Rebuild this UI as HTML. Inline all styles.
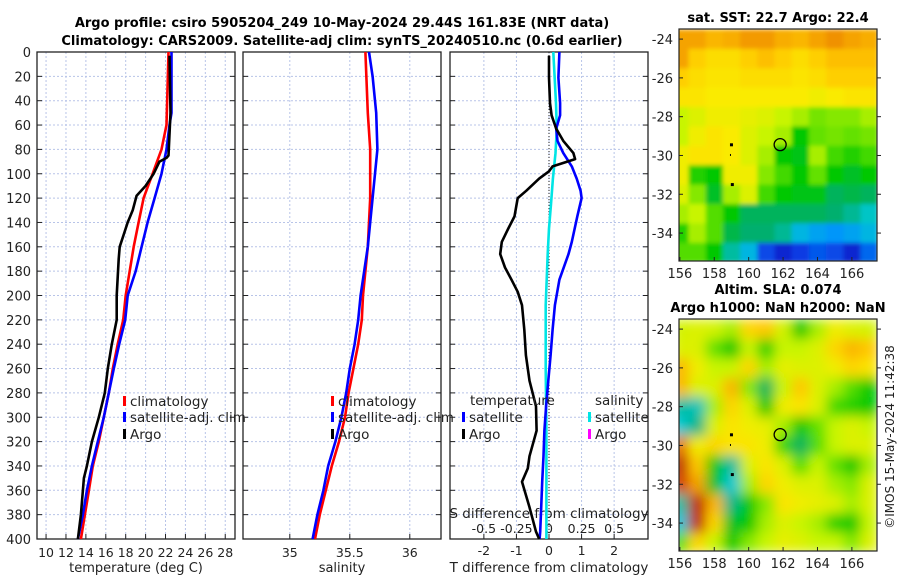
<!DOCTYPE html>
<html><head><meta charset="utf-8">
<style>
html,body{margin:0;padding:0;background:#fff;}
svg{display:block;font-family:"DejaVu Sans","Liberation Sans",sans-serif;}
</style></head>
<body>
<svg id="fig" width="900" height="580" viewBox="0 0 900 580" xmlns="http://www.w3.org/2000/svg">
<defs>
<filter id="blurSST" x="0" y="0" width="1" height="1"><feGaussianBlur stdDeviation="2" edgeMode="duplicate"/></filter>
<filter id="blurSLA" x="0" y="0" width="1" height="1"><feGaussianBlur stdDeviation="6" edgeMode="duplicate"/></filter>
<clipPath id="clipSST"><rect x="679" y="29" width="198" height="232"/></clipPath>
<clipPath id="clipSLA"><rect x="679" y="319" width="198" height="232"/></clipPath>
</defs>
<text x="342" y="27" text-anchor="middle" font-size="13" font-weight="bold">Argo profile: csiro 5905204_249 10-May-2024 29.44S 161.83E (NRT data)</text>
<text x="342" y="45" text-anchor="middle" font-size="13" font-weight="bold">Climatology: CARS2009. Satellite-adj clim: synTS_20240510.nc (0.6d earlier)</text>
<text x="778" y="22" text-anchor="middle" font-size="13" font-weight="bold">sat. SST: 22.7 Argo: 22.4</text>
<text x="778" y="294" text-anchor="middle" font-size="13" font-weight="bold">Altim. SLA: 0.074</text>
<text x="778" y="312" text-anchor="middle" font-size="13" font-weight="bold">Argo h1000: NaN h2000: NaN</text>
<text x="0" y="0" transform="translate(894,437) rotate(-90)" text-anchor="middle" font-size="12" fill="#222">©IMOS 15-May-2024 11:42:38</text>
<g id="root"></g>
</svg>
<script>
// ---- profile data ----
const depthsClim = [0,60,80,100,120,140,160,180,200,220,240,260,280,300,320,340,360,380,400];
const tempClim = [22.3,22.1,21.6,20.7,19.8,19.3,18.8,18.4,18.0,17.75,17.2,16.7,16.3,15.8,15.3,14.7,14.3,13.9,13.5];
const depthsSat = [0,50,60,80,100,120,140,160,180,200,220,240,260,280,300,320,340,360,380,400];
const tempSat = [22.6,22.6,22.4,22.1,21.6,20.9,20.2,19.6,19.0,18.2,17.95,17.35,16.8,16.3,15.8,15.2,14.6,14.1,13.7,13.2];
const depthsArgo = [3,50,85,87,90,100,110,118,130,140,150,160,170,200,220,240,260,280,300,320,340,350,360,380,400];
const tempArgo = [22.4,22.5,22.3,22.1,21.4,20.8,20.0,19.1,18.7,18.2,17.8,17.4,17.3,17.1,17.1,16.6,16.2,15.9,15.3,14.6,14.1,13.8,13.7,13.5,13.2];
const depthsSalClim = [0,50,80,120,160,180,200,220,240,260,280,300,320,340,360,380,400];
const salClim = [35.63,35.65,35.67,35.67,35.65,35.63,35.61,35.6,35.57,35.53,35.49,35.46,35.41,35.35,35.3,35.25,35.21];
const depthsSalSat = [0,20,50,80,100,120,140,160,180,200,220,240,260,280,300,320,340,360,380,400];
const salSat = [35.66,35.69,35.72,35.73,35.71,35.69,35.67,35.65,35.62,35.59,35.57,35.54,35.5,35.47,35.43,35.38,35.32,35.28,35.23,35.19];
const depthsDiffSatT = [0,21,42,52,63,73,83,94,104,114,120,135,156,166,187,208,228,249,270,291,311,332,353,374,394,400];
const diffSatT = [0.32,0.29,0.34,0.34,0.22,0.26,0.44,0.7,0.85,0.97,1.0,0.87,0.7,0.6,0.32,0.18,0.11,0.05,-0.02,-0.09,-0.14,-0.17,-0.21,-0.24,-0.27,-0.29];
const depthsDiffArgoT = [3,21,42,52,63,73,83,88,94,98,104,114,120,135,145,156,166,177,187,197,208,228,249,270,291,311,332,342,353,374,394,400];
const diffArgoT = [0,0,0.03,0.08,0.22,0.44,0.75,0.8,0.11,0,-0.3,-0.7,-0.96,-1.06,-1.25,-1.45,-1.5,-1.35,-1.15,-0.96,-0.83,-0.76,-0.71,-0.6,-0.4,-0.38,-0.6,-0.65,-0.83,-0.6,-0.4,-0.3];
const depthsDiffSatS = [0,42,63,83,104,125,145,166,208,260,311,364,400];
const diffSatS = [0.033,0.054,0.06,0.05,0.03,0.015,0,-0.01,-0.025,-0.025,-0.02,-0.02,-0.02];
const depthTicks = [0,20,40,60,80,100,120,140,160,180,200,220,240,260,280,300,320,340,360,380,400];
const tempTicks = [10,12,14,16,18,20,22,24,26,28];
const salTicks = [35,35.5,36];
const salTickLabels = ["35","35.5","36"];
const tdiffTicks = [-2,-1,0,1,2];
const sdiffTicks = [-0.5,-0.25,0,0.25,0.5];
const sdiffTickLabels = ["-0.5","-0.25","0","0.25","0.5"];
// ---- map data (colour index 0..1) ----
const mapLons = [156,157,158,159,160,161,162,163,164,165,166,167];
const mapLats = [-24,-25,-26,-27,-28,-29,-30,-31,-32,-33,-34,-35];
const sstGrid = [
[0.76,0.76,0.74,0.75,0.77,0.77,0.75,0.74,0.76,0.78,0.76,0.75],
[0.76,0.71,0.69,0.69,0.71,0.73,0.71,0.69,0.71,0.73,0.73,0.73],
[0.71,0.69,0.68,0.68,0.69,0.69,0.69,0.68,0.69,0.71,0.71,0.71],
[0.68,0.68,0.67,0.67,0.67,0.67,0.67,0.67,0.66,0.67,0.68,0.68],
[0.62,0.64,0.66,0.66,0.65,0.64,0.62,0.6,0.57,0.58,0.58,0.6],
[0.62,0.66,0.68,0.67,0.64,0.62,0.6,0.5,0.56,0.57,0.56,0.57],
[0.66,0.68,0.68,0.67,0.64,0.6,0.5,0.49,0.6,0.54,0.52,0.54],
[0.66,0.52,0.5,0.66,0.66,0.58,0.54,0.5,0.56,0.5,0.48,0.5],
[0.64,0.58,0.48,0.6,0.64,0.54,0.5,0.49,0.49,0.45,0.46,0.45],
[0.6,0.62,0.55,0.5,0.45,0.45,0.45,0.45,0.45,0.44,0.41,0.37],
[0.52,0.6,0.55,0.46,0.44,0.44,0.41,0.33,0.3,0.28,0.3,0.33],
[0.55,0.55,0.5,0.4,0.33,0.18,0.12,0.16,0.2,0.18,0.12,0.22]];
const slaGrid = [
[0.63,0.64,0.63,0.6,0.7,0.72,0.63,0.5,0.6,0.66,0.64,0.63],
[0.64,0.64,0.56,0.5,0.62,0.52,0.62,0.62,0.64,0.7,0.74,0.72],
[0.74,0.66,0.62,0.62,0.7,0.6,0.65,0.64,0.64,0.66,0.7,0.68],
[0.74,0.64,0.64,0.74,0.58,0.45,0.62,0.72,0.64,0.6,0.55,0.5],
[0.4,0.38,0.6,0.7,0.64,0.5,0.66,0.68,0.64,0.54,0.52,0.5],
[0.36,0.42,0.64,0.68,0.66,0.65,0.6,0.5,0.56,0.62,0.64,0.62],
[0.8,0.66,0.7,0.68,0.68,0.66,0.53,0.45,0.55,0.62,0.64,0.64],
[0.88,0.72,0.5,0.4,0.64,0.68,0.64,0.55,0.62,0.56,0.5,0.6],
[0.84,0.76,0.48,0.36,0.6,0.7,0.66,0.64,0.64,0.6,0.58,0.64],
[0.4,0.88,0.74,0.42,0.5,0.58,0.68,0.66,0.65,0.64,0.6,0.64],
[0.35,0.88,0.7,0.48,0.5,0.6,0.64,0.62,0.6,0.52,0.5,0.62],
[0.55,0.7,0.62,0.5,0.58,0.62,0.65,0.64,0.62,0.62,0.58,0.64]];
const mapLonTicks = [156,158,160,162,164,166];
const mapLatTicks = [-24,-26,-28,-30,-32,-34];
const argoLon = 161.83, argoLat = -29.44;
const dotLons = [159,159,159.05];
const dotLats = [-29.45,-30,-31.5];

const NS="http://www.w3.org/2000/svg";
const root=document.getElementById('root');
function mk(tag,attrs,parent){const e=document.createElementNS(NS,tag);for(const k in attrs)e.setAttribute(k,attrs[k]);(parent||root).appendChild(e);return e;}

const Y0=52,Y1=539;
const yD=d=>Y0+(Y1-Y0)*d/400;
function linX(a,b,x0,x1){return v=>x0+(v-a)*(x1-x0)/(b-a);}

function panel(name,x0,x1,vgridVals,xs){
  const g=mk('g',{});
  
  
  vgridVals.forEach(v=>{const l=mk('line',{x1:xs(v),x2:xs(v),y1:Y0,y2:Y1,stroke:'#b8c4e8','stroke-width':1,'stroke-dasharray':'2,2'},g);
    });
  depthTicks.forEach(d=>{const l=mk('line',{x1:x0,x2:x1,y1:yD(d),y2:yD(d),stroke:'#b8c4e8','stroke-width':1,'stroke-dasharray':'2,2'},g);
    
    mk('line',{x1:x0,x2:x0+5,y1:yD(d),y2:yD(d),stroke:'#222'},g);
    mk('line',{x1:x1-5,x2:x1,y1:yD(d),y2:yD(d),stroke:'#222'},g);});
  const r=mk('rect',{x:x0,y:Y0,width:x1-x0,height:Y1-Y0,fill:'none',stroke:'#222','stroke-width':1.3},g);
  
  return g;
}
function line(g,xs,depths,vals,color,name,w){
  const p=depths.map((d,i)=>(i?'L':'M')+xs(vals[i]).toFixed(1)+','+yD(d).toFixed(1)).join('');
  const e=mk('path',{d:p,fill:'none',stroke:color,'stroke-width':w||2.6,'stroke-linejoin':'round'},g);
  
  
}
function txt(g,x,y,s,opts,name){const t=mk('text',Object.assign({x:x,y:y,'font-size':12.5,fill:'#222'},opts||{}),g);t.textContent=s;
  return t;}
function legend(g,x,y,color,label,name){mk('rect',{x:x,y:y-5,width:3,height:10,fill:color},g);txt(g,x+7,y+5,label,{'font-size':13.5},name);}

// Panel 1 temperature
const xT=linX(9.09,28.98,37,235);
let g1=panel('temperature',37,235,tempTicks,xT);
depthTicks.forEach(d=>txt(g1,31,yD(d)+5,String(d),{'text-anchor':'end','font-size':13},'depth-tick-label'));
tempTicks.forEach(v=>{mk('line',{x1:xT(v),x2:xT(v),y1:Y1,y2:Y1-5,stroke:'#222'},g1);txt(g1,xT(v),557,String(v),{'text-anchor':'middle','font-size':12.5},'temp-tick-label');});
txt(g1,136,572,'temperature (deg C)',{'text-anchor':'middle','font-size':13},'x-axis-title-temperature');
line(g1,xT,depthsClim,tempClim,'#ff0000','temp-climatology-line');
line(g1,xT,depthsSat,tempSat,'#0000ff','temp-satellite-line');
line(g1,xT,depthsArgo,tempArgo,'#000000','temp-argo-line');
legend(g1,123,401,'#ff0000','climatology','legend-climatology');
legend(g1,123,417,'#0000ff','satellite-adj. clim','legend-satellite');
legend(g1,123,434,'#000000','Argo','legend-argo');

// Panel 2 salinity
const xS=linX(34.61,36.26,243,441);
let g2=panel('salinity',243,441,salTicks,xS);
salTicks.forEach((v,i)=>{mk('line',{x1:xS(v),x2:xS(v),y1:Y1,y2:Y1-5,stroke:'#222'},g2);txt(g2,xS(v),557,salTickLabels[i],{'text-anchor':'middle','font-size':12.5},'sal-tick-label');});
txt(g2,342,572,'salinity',{'text-anchor':'middle','font-size':13},'x-axis-title-salinity');
line(g2,xS,depthsSalClim,salClim,'#ff0000','sal-climatology-line');
line(g2,xS,depthsSalSat,salSat,'#0000ff','sal-satellite-line');
legend(g2,331,401,'#ff0000','climatology','legend-climatology');
legend(g2,331,417,'#0000ff','satellite-adj. clim','legend-satellite');
legend(g2,331,434,'#000000','Argo','legend-argo');

// Panel 3 differences
const xTD=linX(-3.04,3.04,450,648);
const xSD=linX(-0.76,0.76,450,648);
let g3=panel('difference',450,648,tdiffTicks,xTD);
mk('line',{x1:xTD(0),x2:xTD(0),y1:Y0,y2:Y1,stroke:'#222','stroke-width':1,'stroke-dasharray':'1,2'},g3);
tdiffTicks.forEach(v=>{mk('line',{x1:xTD(v),x2:xTD(v),y1:Y1,y2:Y1-5,stroke:'#222'},g3);txt(g3,xTD(v),555,String(v),{'text-anchor':'middle','font-size':12.5},'tdiff-tick-label');});
sdiffTicks.forEach((v,i)=>txt(g3,xSD(v),533,sdiffTickLabels[i],{'text-anchor':'middle','font-size':12.5},'sdiff-tick-label'));
txt(g3,549,518,'S difference from climatology',{'text-anchor':'middle','font-size':13.5},'s-diff-axis-title');
txt(g3,549,572,'T difference from climatology',{'text-anchor':'middle','font-size':13.5},'t-diff-axis-title');
line(g3,xSD,depthsDiffSatS,diffSatS,'#00e5e5','sdiff-satellite-line');
line(g3,xTD,depthsDiffSatT,diffSatT,'#0000ff','tdiff-satellite-line');
line(g3,xTD,depthsDiffArgoT,diffArgoT,'#000000','tdiff-argo-line');
txt(g3,470,405,'temperature',{'font-size':13.5},'legend-temperature-heading');
legend(g3,462,417,'#0000ff','satellite','legend-t-satellite');
legend(g3,462,434,'#000000','Argo','legend-t-argo');
txt(g3,595,405,'salinity',{'font-size':13.5},'legend-salinity-heading');
legend(g3,588,417,'#00e5e5','satellite','legend-s-satellite');
legend(g3,588,434,'#ff00ff','Argo','legend-s-argo');

// Maps - custom colormap approximating the reference
const cmStops=[[0,[0,0,140]],[0.15,[10,50,225]],[0.28,[0,150,250]],[0.36,[0,200,210]],[0.44,[0,175,110]],[0.5,[0,200,0]],[0.56,[100,225,0]],[0.62,[200,245,0]],[0.67,[250,235,0]],[0.72,[255,200,0]],[0.78,[240,145,0]],[0.86,[200,30,0]],[1,[130,0,0]]];
function cmap(v){v=Math.max(0,Math.min(1,v));
  for(let i=1;i<cmStops.length;i++){if(v<=cmStops[i][0]){const a=cmStops[i-1],b=cmStops[i],t=(v-a[0])/(b[0]-a[0]);
    return 'rgb('+a[1].map((c,k)=>Math.round(c+(b[1][k]-c)*t)).join(',')+')';}}
  return 'rgb(130,0,0)';}
function map(name,top,grid,filter,clip){
  const X0=679,X1=877,H=232;
  const lonX=linX(155.95,167.46,X0,X1);
  const latY=linX(-23.48,-35.44,top,top+H);
  const g=mk('g',{});
  
  
  const cells=mk('g',{filter:'url(#'+filter+')','clip-path':'url(#'+clip+')'},g);
  grid.forEach((row,i)=>row.forEach((v,j)=>{
    const c=mk('rect',{x:(lonX(mapLons[j]-0.5)).toFixed(1),y:(latY(mapLats[i]+0.5)).toFixed(1),width:(lonX(1)-lonX(0)+0.6).toFixed(1),height:(latY(-1)-latY(0)+0.6).toFixed(1),fill:cmap(v)},cells);
    
    
  }));
  const b=mk('rect',{x:X0,y:top,width:X1-X0,height:H,fill:'none',stroke:'#222','stroke-width':1.2},g);
  
  mapLonTicks.forEach(v=>{mk('line',{x1:lonX(v),x2:lonX(v),y1:top+H,y2:top+H-4,stroke:'#222'},g);txt(g,lonX(v),top+H+17,String(v),{'text-anchor':'middle','font-size':13},'lon-tick-label');});
  mapLatTicks.forEach(v=>{mk('line',{x1:X0,x2:X0+4,y1:latY(v),y2:latY(v),stroke:'#222'},g);mk('line',{x1:X1,x2:X1+4,y1:latY(v),y2:latY(v),stroke:'#222'},g);
    txt(g,673,latY(v)+5,String(v),{'text-anchor':'end','font-size':13},'lat-tick-label');});
  const c=mk('circle',{cx:lonX(argoLon),cy:latY(argoLat),r:6,fill:'none',stroke:'#000','stroke-width':1.3},g);
  
  dotLons.forEach((lo,i)=>{const d=mk('rect',{x:lonX(lo)-1.5,y:latY(dotLats[i])-1.5,width:i==1?1:3,height:i==1?2:3,fill:'#000'},g);
    });
}
map('sst-map',29,sstGrid,'blurSST','clipSST');
map('sla-map',319,slaGrid,'blurSLA','clipSLA');
</script>
</body></html>
